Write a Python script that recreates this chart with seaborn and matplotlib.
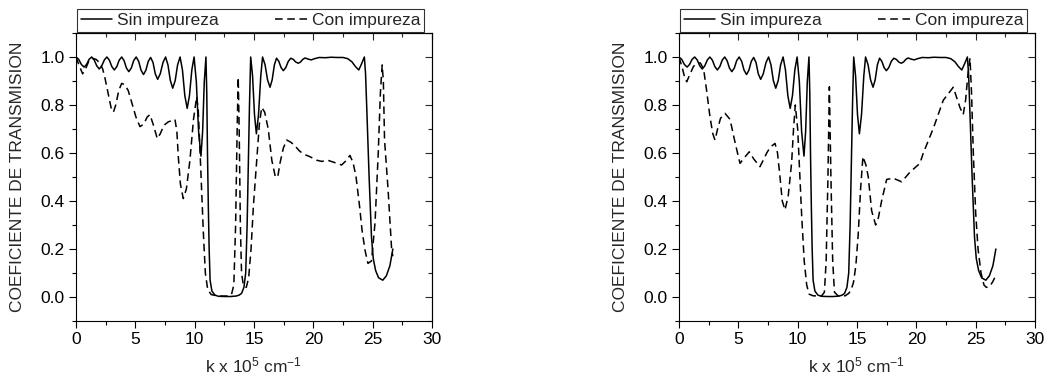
import numpy as np
import pandas as pd
import matplotlib
matplotlib.use('Agg')
import matplotlib.pyplot as plt
from matplotlib.ticker import MultipleLocator
import seaborn as sns

# DATA
# curva sin impureza (igual en los dos paneles)
k_sin = [0.00, 0.23, 0.45, 0.68, 0.89, 1.10, 1.32, 1.53, 1.75, 1.96, 2.17, 2.39, 2.60,
         2.81, 3.02, 3.23, 3.44, 3.64, 3.85, 4.05, 4.25, 4.45, 4.66, 4.86, 5.07,
         5.28, 5.48, 5.69, 5.89, 6.09, 6.29, 6.49, 6.68, 6.88, 7.10, 7.33, 7.55,
         7.75, 7.95, 8.15, 8.36, 8.56, 8.77, 8.97, 9.17, 9.37, 9.56, 9.76, 9.95,
         10.14, 10.33, 10.53, 10.67, 10.81, 10.95, 11.02, 11.08, 11.15, 11.22, 11.30,
         11.45, 11.70, 12.00, 12.50, 13.00, 13.50, 13.75, 13.95, 14.15, 14.30, 14.42,
         14.52, 14.62, 14.72, 14.88, 15.04, 15.20, 15.38, 15.57, 15.72, 15.93, 16.14,
         16.35, 16.53, 16.72, 16.90, 17.09, 17.28, 17.47, 17.68, 17.89, 18.10, 18.31,
         18.52, 18.73, 18.92, 19.11, 19.30, 19.57, 19.83, 20.10, 20.50, 21.00, 21.50,
         22.00, 22.50, 22.90, 23.25, 23.55, 23.83, 24.05, 24.30, 24.40, 24.50, 24.70,
         24.90, 25.05, 25.25, 25.50, 25.85, 26.15, 26.45, 26.70]
t_sin = [1.000, 0.990, 0.969, 0.958, 0.969, 0.990, 1.000, 0.988, 0.963, 0.950, 0.963, 0.988, 1.000,
         0.987, 0.960, 0.946, 0.960, 0.987, 1.000, 0.985, 0.954, 0.939, 0.954, 0.985, 1.000,
         0.982, 0.945, 0.927, 0.945, 0.982, 0.998, 0.977, 0.930, 0.907, 0.930, 0.977, 1.000,
         0.967, 0.902, 0.870, 0.902, 0.967, 1.000, 0.946, 0.839, 0.786, 0.839, 0.946, 1.000,
         0.897, 0.690, 0.587, 0.690, 0.897, 1.000, 0.850, 0.600, 0.380, 0.200, 0.070,
         0.025, 0.008, 0.003, 0.002, 0.002, 0.004, 0.008, 0.015, 0.040, 0.100, 0.300,
         0.550, 0.800, 1.000, 0.920, 0.760, 0.680, 0.760, 0.920, 1.000, 0.968, 0.905,
         0.874, 0.905, 0.968, 0.995, 0.982, 0.956, 0.943, 0.956, 0.982, 0.995, 0.990,
         0.979, 0.974, 0.979, 0.990, 0.996, 0.991, 0.988, 0.993, 0.998, 0.997, 0.999,
         0.998, 0.998, 0.993, 0.980, 0.960, 0.946, 0.970, 1.000, 0.930, 0.790, 0.500,
         0.250, 0.160, 0.110, 0.080, 0.070, 0.088, 0.130, 0.200]

# con impureza, panel izquierdo
k_con_a = [0.00, 0.30, 0.56, 0.80, 1.10, 1.34, 1.70, 2.00, 2.25, 2.45, 2.70, 2.95, 3.15,
           3.35, 3.60, 3.85, 4.10, 4.40, 4.70, 5.05, 5.39, 5.70, 6.00, 6.23, 6.50,
           6.85, 7.10, 7.40, 7.78, 8.10, 8.34, 8.50, 8.62, 8.80, 9.04, 9.30, 9.60,
           9.90, 10.17, 10.30, 10.50, 10.73, 10.90, 11.10, 11.40, 12.00, 12.80, 13.10,
           13.30, 13.45, 13.58, 13.67, 13.75, 13.85, 13.95, 14.10, 14.35, 14.55, 14.75,
           14.95, 15.20, 15.45, 15.65, 15.90, 16.20, 16.50, 16.80, 17.00, 17.20, 17.47,
           17.75, 18.10, 18.45, 18.80, 19.15, 19.70, 20.28, 20.70, 21.20, 21.80, 22.38,
           22.80, 23.08, 23.35, 23.60, 23.90, 24.10, 24.35, 24.60, 24.90, 25.20, 25.47,
           25.65, 25.80, 25.90, 26.00, 26.30, 26.60, 26.70]
t_con_a = [1.000, 0.960, 0.930, 0.950, 0.985, 0.995, 0.990, 0.975, 0.950, 0.910, 0.850, 0.790, 0.770,
           0.800, 0.860, 0.890, 0.885, 0.860, 0.810, 0.750, 0.710, 0.720, 0.750, 0.760, 0.720,
           0.660, 0.680, 0.715, 0.730, 0.735, 0.740, 0.690, 0.585, 0.470, 0.410, 0.450, 0.570,
           0.740, 0.835, 0.780, 0.550, 0.270, 0.100, 0.030, 0.010, 0.004, 0.004, 0.010,
           0.050, 0.300, 0.700, 0.915, 0.700, 0.300, 0.100, 0.050, 0.040, 0.080, 0.200,
           0.380, 0.550, 0.720, 0.790, 0.770, 0.700, 0.570, 0.500, 0.500, 0.560, 0.620,
           0.654, 0.645, 0.630, 0.610, 0.596, 0.585, 0.570, 0.565, 0.570, 0.560, 0.550,
           0.570, 0.590, 0.560, 0.500, 0.376, 0.280, 0.196, 0.140, 0.150, 0.310, 0.600,
           0.850, 0.967, 0.900, 0.654, 0.446, 0.196, 0.170]

# con impureza, panel derecho
k_con_b = [0.00, 0.30, 0.50, 0.65, 0.85, 1.21, 1.50, 1.80, 2.07, 2.30, 2.61, 2.85, 3.03,
           3.25, 3.50, 3.88, 4.30, 4.65, 5.00, 5.14, 5.50, 5.92, 6.30, 6.82, 7.10,
           7.39, 7.70, 8.09, 8.30, 8.51, 8.70, 8.93, 9.20, 9.49, 9.65, 9.80, 10.00,
           10.34, 10.55, 10.76, 10.96, 11.30, 12.00, 12.25, 12.40, 12.55, 12.67, 12.80,
           12.95, 13.10, 13.40, 14.00, 14.30, 14.50, 14.70, 14.90, 15.10, 15.30, 15.50,
           15.75, 15.95, 16.23, 16.57, 16.80, 17.07, 17.50, 18.05, 18.76, 19.46, 20.30,
           20.58, 21.43, 22.27, 23.11, 23.67, 23.95, 24.15, 24.35, 24.52, 24.65, 24.80,
           25.00, 25.20, 25.45, 25.70, 25.90, 26.20, 26.45, 26.65]
t_con_b = [1.000, 0.950, 0.910, 0.897, 0.920, 0.960, 0.975, 0.975, 0.950, 0.870, 0.750, 0.680, 0.654,
           0.700, 0.745, 0.765, 0.740, 0.660, 0.585, 0.557, 0.580, 0.605, 0.575, 0.543, 0.570,
           0.600, 0.625, 0.640, 0.600, 0.500, 0.400, 0.363, 0.420, 0.560, 0.700, 0.800, 0.700,
           0.335, 0.150, 0.050, 0.012, 0.005, 0.004, 0.020, 0.150, 0.500, 0.876, 0.500,
           0.150, 0.020, 0.005, 0.005, 0.015, 0.030, 0.060, 0.130, 0.260, 0.450, 0.585,
           0.550, 0.500, 0.360, 0.300, 0.330, 0.400, 0.490, 0.495, 0.480, 0.520, 0.557,
           0.599, 0.703, 0.820, 0.874, 0.790, 0.760, 0.820, 0.930, 0.995, 0.850, 0.600,
           0.350, 0.200, 0.100, 0.050, 0.040, 0.045, 0.065, 0.085]

series = ['Sin impureza', 'Con impureza']
x_ticks = [0, 5, 10, 15, 20, 25, 30]
y_ticks = [0.0, 0.2, 0.4, 0.6, 0.8, 1.0]


def make_df(k_con, t_con):
    d1 = pd.DataFrame({'k': k_sin, 'T': t_sin, 'serie': series[0]})
    d2 = pd.DataFrame({'k': k_con, 'T': t_con, 'serie': series[1]})
    return pd.concat([d1, d2], ignore_index=True)


sns.set_theme(style='ticks')
plt.rcParams['font.family'] = ['Liberation Sans', 'DejaVu Sans']
plt.rcParams['mathtext.default'] = 'regular'
plt.rcParams['axes.linewidth'] = 0.8

fig = plt.figure(figsize=(10.44, 3.75), dpi=100)
ax1 = fig.add_axes([0.0728, 0.144, 0.341, 0.768])
ax2 = fig.add_axes([0.6504, 0.144, 0.341, 0.768])

for ax, df in [(ax1, make_df(k_con_a, t_con_a)), (ax2, make_df(k_con_b, t_con_b))]:
    sns.lineplot(data=df, x='k', y='T', style='serie', style_order=series,
                 dashes={'Sin impureza': '', 'Con impureza': (5, 3)},
                 color='black', lw=1.1, estimator=None, sort=False,
                 legend=False, ax=ax)
    ax.set_xlim(0, 30)
    ax.set_ylim(-0.1, 1.1)
    ax.set_xticks(x_ticks)
    ax.set_yticks(y_ticks)
    ax.xaxis.set_minor_locator(MultipleLocator(2.5))
    ax.yaxis.set_minor_locator(MultipleLocator(0.1))
    ax.tick_params(which='both', direction='out', labelsize=12.5, width=0.8,
                   colors='black', pad=3)
    ax.tick_params(which='major', length=5)
    ax.tick_params(which='minor', length=3)
    for s in ax.spines.values():
        s.set_color('black')
        s.set_linewidth(0.8)

    # ticks hacia adentro arriba y a la derecha
    top = ax.secondary_xaxis('top')
    top.set_xticks(x_ticks)
    top.xaxis.set_minor_locator(MultipleLocator(2.5))
    top.tick_params(which='both', direction='in', labeltop=False, width=0.8)
    top.tick_params(which='major', length=5)
    top.tick_params(which='minor', length=3)
    right = ax.secondary_yaxis('right')
    right.set_yticks(y_ticks)
    right.yaxis.set_minor_locator(MultipleLocator(0.1))
    right.tick_params(which='both', direction='in', labelright=False, width=0.8)
    right.tick_params(which='major', length=5)
    right.tick_params(which='minor', length=3)

    ax.set_xlabel('k x 10$^5$ cm$^{-1}$', fontsize=12.5, labelpad=6)
    ax.set_ylabel('COEFICIENTE DE TRANSMISION', fontsize=12.5, labelpad=11)

    leg = ax.legend(handles=ax.lines[:2], labels=series, loc='lower left',
                    bbox_to_anchor=(0.003, 1.003, 0.975, 0.07), mode='expand',
                    ncol=2, fontsize=12.5, frameon=True, fancybox=False,
                    borderpad=0.22, handlelength=1.8, handletextpad=0.3,
                    borderaxespad=0)
    leg.get_frame().set_edgecolor('black')
    leg.get_frame().set_linewidth(0.8)

fig.savefig('out.png', dpi=100)
